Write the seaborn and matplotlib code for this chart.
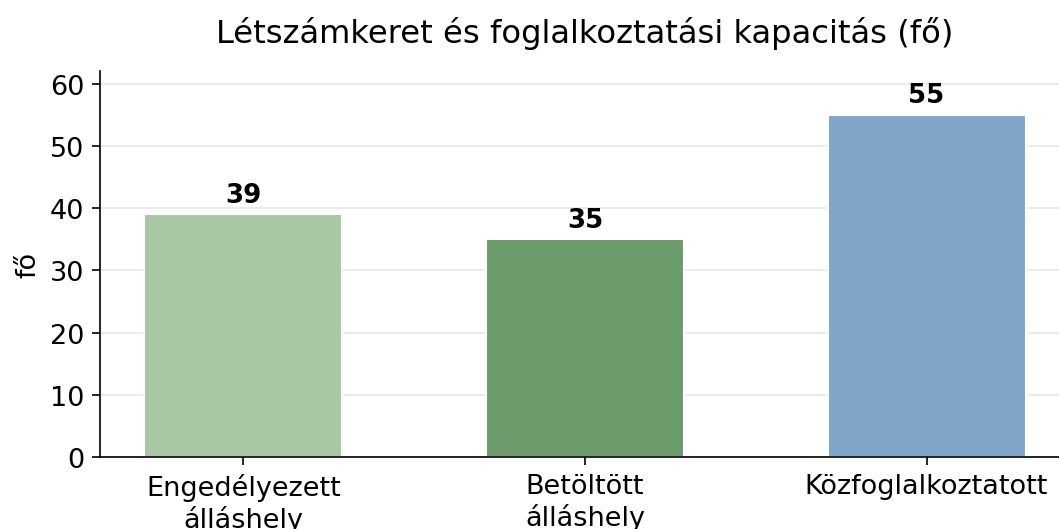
import pandas as pd
import seaborn as sns
import matplotlib.pyplot as plt

categories = ['Engedélyezett\nálláshely', 'Betöltött\nálláshely', 'Közfoglalkoztatott']
values = [39, 35, 55]
colors = ['#a9c6a4', '#6b9b6b', '#7fa6c9']

df = pd.DataFrame({'kategoria': categories, 'fo': values})

sns.set_style('white')
plt.rcParams['font.family'] = ['DejaVu Sans']
plt.rcParams['text.color'] = 'black'
plt.rcParams['axes.labelcolor'] = 'black'
plt.rcParams['xtick.color'] = 'black'
plt.rcParams['ytick.color'] = 'black'

fig = plt.figure(figsize=(7.06, 3.5333), dpi=150)
ax = fig.add_axes([0.0944, 0.1358, 0.916, 0.728])

sns.barplot(data=df, x='kategoria', y='fo', hue='kategoria', palette=colors,
            width=0.58, saturation=1, legend=False, ax=ax)

# value labels on top of bars
for container in ax.containers:
    ax.bar_label(container, fontsize=12.5, fontweight='bold', padding=3, color='black')

ax.set_ylim(0, 62)
ax.set_xlim(-0.42, 2.42)
ax.yaxis.grid(True, color='#ebebeb', linewidth=1)
ax.set_axisbelow(True)
sns.despine(ax=ax)
for s in ['left', 'bottom']:
    ax.spines[s].set_color('black')
ax.tick_params(axis='y', labelsize=13, left=True, length=4, color='black')
ax.tick_params(axis='x', labelsize=13, bottom=True, length=4, color='black')
ax.set_xlabel('')
ax.set_ylabel('fő', fontsize=13)
ax.set_title('Létszámkeret és foglalkoztatási kapacitás (fő)', fontsize=15.5, pad=14, color='black')

plt.savefig('out.png', dpi=150)
